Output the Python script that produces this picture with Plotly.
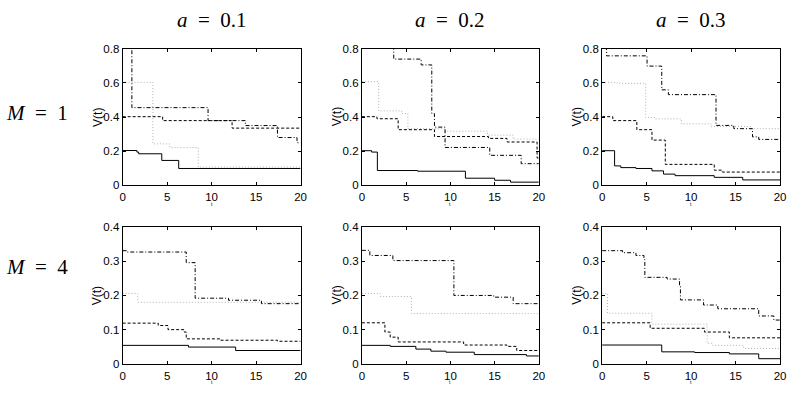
import plotly.graph_objects as go

# ---------------- data (step functions: jump times and levels) ----------------
T_MAX = 20
col_titles = ["a = 0.1", "a = 0.2", "a = 0.3"]
row_titles = ["M = 1", "M = 4"]
x_ticks = [0, 5, 10, 15, 20]
y_ticks_m1 = [0, 0.2, 0.4, 0.6, 0.8]
y_ticks_m4 = [0, 0.1, 0.2, 0.3, 0.4]

# M = 1, a = 0.1
m1a1_solid_t = [0, 1.6, 1.8, 4.4, 6.3]
m1a1_solid_v = [0.204, 0.195, 0.185, 0.146, 0.099]
m1a1_dot_t = [0, 3.4, 5.3, 8.5]
m1a1_dot_v = [0.603, 0.243, 0.222, 0.107]
m1a1_dash_t = [0, 4.5, 12.3]
m1a1_dash_v = [0.402, 0.379, 0.335]
m1a1_dashdot_t = [0, 1.04, 9.6, 13.8, 17.4, 19.6]
m1a1_dashdot_v = [1.0, 0.455, 0.379, 0.35, 0.28, 0.25]

# M = 1, a = 0.2
m1a2_solid_t = [0, 1.1, 1.75, 6.3, 11.7, 15.0, 16.8]
m1a2_solid_v = [0.203, 0.195, 0.087, 0.083, 0.042, 0.03, 0.019]
m1a2_dot_t = [0, 1.9, 4.5, 5.2, 9.3, 14.2, 17.1]
m1a2_dot_v = [0.607, 0.436, 0.42, 0.332, 0.317, 0.294, 0.271]
m1a2_dash_t = [0, 1.7, 4.1, 8.2, 14.3, 16.4, 19.8]
m1a2_dash_v = [0.402, 0.39, 0.326, 0.286, 0.275, 0.254, 0.16]
m1a2_dashdot_t = [0, 3.6, 6.7, 7.9, 8.2, 9.4, 14.45, 18.0]
m1a2_dashdot_v = [1.0, 0.739, 0.705, 0.42, 0.341, 0.222, 0.176, 0.127]

# M = 1, a = 0.3
m1a3_solid_t = [0, 1.4, 2.1, 3.8, 5.6, 6.9, 8.2, 12.6, 15.8]
m1a3_solid_v = [0.203, 0.114, 0.104, 0.099, 0.085, 0.066, 0.057, 0.047, 0.032]
m1a3_dot_t = [0, 1.7, 4.9, 6.0, 8.9, 12.25, 16.7]
m1a3_dot_v = [0.603, 0.597, 0.398, 0.389, 0.36, 0.345, 0.332]
m1a3_dash_t = [0, 1.2, 3.9, 5.6, 7.1, 12.6, 13.5]
m1a3_dash_v = [0.402, 0.379, 0.326, 0.265, 0.123, 0.089, 0.078]
m1a3_dashdot_t = [0, 0.5, 5.05, 6.7, 7.45, 12.8, 14.8, 16.9, 17.6]
m1a3_dashdot_v = [1.0, 0.758, 0.698, 0.559, 0.531, 0.351, 0.332, 0.284, 0.269]

# M = 4, a = 0.1
m4a1_solid_t = [0, 7.4, 12.7]
m4a1_solid_v = [0.054, 0.049, 0.039]
m4a1_dot_t = [0, 1.7]
m4a1_dot_v = [0.206, 0.18]
m4a1_dash_t = [0, 4.0, 5.1, 6.9, 7.15, 11.0, 17.4]
m4a1_dash_v = [0.119, 0.112, 0.1, 0.093, 0.073, 0.069, 0.066]
m4a1_dashdot_t = [0, 0.5, 7.15, 8.15, 11.9, 15.6]
m4a1_dashdot_v = [0.331, 0.327, 0.296, 0.192, 0.186, 0.176]

# M = 4, a = 0.2
m4a2_solid_t = [0, 3.2, 6.1, 7.8, 9.5, 12.7, 18.6]
m4a2_solid_v = [0.054, 0.051, 0.043, 0.037, 0.034, 0.027, 0.023]
m4a2_dot_t = [0, 2.05, 5.6]
m4a2_dot_v = [0.206, 0.197, 0.147]
m4a2_dash_t = [0, 2.6, 3.2, 4.1, 11.5, 16.4, 17.5]
m4a2_dash_v = [0.12, 0.093, 0.078, 0.064, 0.055, 0.051, 0.039]
m4a2_dashdot_t = [0, 0.9, 3.5, 10.4, 14.9, 17.1]
m4a2_dashdot_v = [0.332, 0.317, 0.302, 0.2, 0.195, 0.176]

# M = 4, a = 0.3
m4a3_solid_t = [0, 6.7, 10.4, 14.3, 17.6]
m4a3_solid_v = [0.055, 0.035, 0.033, 0.029, 0.015]
m4a3_dot_t = [0, 0.6, 5.6, 11.8, 12.4, 15.9]
m4a3_dot_v = [0.206, 0.148, 0.116, 0.06, 0.054, 0.045]
m4a3_dash_t = [0, 5.4, 11.5, 14.3]
m4a3_dash_v = [0.12, 0.104, 0.093, 0.076]
m4a3_dashdot_t = [0, 2.3, 3.8, 4.7, 4.8, 7.3, 8.7, 8.8, 11.4, 13.0, 17.6, 19.3]
m4a3_dashdot_v = [0.331, 0.325, 0.317, 0.305, 0.253, 0.248, 0.23, 0.187, 0.172, 0.161, 0.14, 0.128]

panels = [
    [  # M = 1
        [(m1a1_solid_t, m1a1_solid_v), (m1a1_dot_t, m1a1_dot_v), (m1a1_dash_t, m1a1_dash_v), (m1a1_dashdot_t, m1a1_dashdot_v)],
        [(m1a2_solid_t, m1a2_solid_v), (m1a2_dot_t, m1a2_dot_v), (m1a2_dash_t, m1a2_dash_v), (m1a2_dashdot_t, m1a2_dashdot_v)],
        [(m1a3_solid_t, m1a3_solid_v), (m1a3_dot_t, m1a3_dot_v), (m1a3_dash_t, m1a3_dash_v), (m1a3_dashdot_t, m1a3_dashdot_v)],
    ],
    [  # M = 4
        [(m4a1_solid_t, m4a1_solid_v), (m4a1_dot_t, m4a1_dot_v), (m4a1_dash_t, m4a1_dash_v), (m4a1_dashdot_t, m4a1_dashdot_v)],
        [(m4a2_solid_t, m4a2_solid_v), (m4a2_dot_t, m4a2_dot_v), (m4a2_dash_t, m4a2_dash_v), (m4a2_dashdot_t, m4a2_dashdot_v)],
        [(m4a3_solid_t, m4a3_solid_v), (m4a3_dot_t, m4a3_dot_v), (m4a3_dash_t, m4a3_dash_v), (m4a3_dashdot_t, m4a3_dashdot_v)],
    ],
]

# ---------------- styling / layout ----------------
W, H = 794, 396
col_px = [(121, 301), (363, 542), (606, 786)]
row_px = [(44, 185), (228, 369)]
row_label_y = [110, 269]
line_styles = [
    dict(color="#000000", dash="solid", width=1),
    dict(color="#b0b0b0", dash="1px,2px", width=1),
    dict(color="#000000", dash="3px,2px", width=1),
    dict(color="#000000", dash="4px,2px,1px,2px", width=1),
]
tick_font = dict(family="Liberation Sans, Arial, sans-serif", size=11.5, color="#000000")
math_font = dict(family="Liberation Serif, Times New Roman, serif", size=21, color="#000000")
SP = "&#8194;"  # en space around '=' (LaTeX-like spacing)

fig = go.Figure()
layout = dict(
    width=W, height=H, margin=dict(l=0, r=0, t=0, b=0),
    paper_bgcolor="white", plot_bgcolor="white", showlegend=False,
)
annotations = []

idx = 0
for r in range(2):
    y0p, y1p = row_px[r]
    ydom = [1 - y1p / H, 1 - y0p / H]
    yticks = y_ticks_m1 if r == 0 else y_ticks_m4
    for c in range(3):
        idx += 1
        x0p, x1p = col_px[c]
        xdom = [x0p / W, x1p / W]
        xa = "xaxis" if idx == 1 else f"xaxis{idx}"
        ya = "yaxis" if idx == 1 else f"yaxis{idx}"
        xref = "x" if idx == 1 else f"x{idx}"
        yref = "y" if idx == 1 else f"y{idx}"
        for (ts, vs), st in zip(panels[r][c], line_styles):
            xs = list(ts) + [T_MAX]
            ys = list(vs) + [vs[-1]]
            fig.add_trace(go.Scatter(x=xs, y=ys, mode="lines", line_shape="hv",
                                     line=st, xaxis=xref, yaxis=yref, hoverinfo="skip"))
        axis_common = dict(showgrid=False, zeroline=False, showline=True, linecolor="#000000",
                           linewidth=1, mirror="allticks", ticks="inside", ticklen=3,
                           tickcolor="#000000", tickfont=tick_font, fixedrange=True)
        layout[xa] = dict(domain=xdom, range=[0, T_MAX], tickvals=x_ticks,
                          ticktext=[str(v) for v in x_ticks], anchor=yref,
                          ticklabelstandoff=1, **axis_common)
        layout[ya] = dict(domain=ydom, range=[0, yticks[-1]], tickvals=yticks,
                          ticktext=[("0" if v == 0 else f"{v:g}") for v in yticks],
                          anchor=xref, **axis_common)
        # y label V(t)
        annotations.append(dict(text="V(t)", textangle=-90, xref="paper", yref="paper",
                                x=(x0p - 25) / W, y=1 - ((y0p + y1p) / 2) / H,
                                showarrow=False, font=dict(family="Liberation Sans, Arial", size=12, color="#000000"),
                                xanchor="center", yanchor="middle"))
        # tiny x label
        annotations.append(dict(text="t", xref="paper", yref="paper",
                                x=((x0p + x1p) / 2) / W, y=1 - (y1p + 19) / H,
                                showarrow=False, font=dict(family="Liberation Sans, Arial", size=5, color="#000000"),
                                xanchor="center", yanchor="middle"))

for c in range(3):
    x0p, x1p = col_px[c]
    name, val = col_titles[c].split(" = ")
    annotations.append(dict(text=f"<i>{name}</i>{SP}={SP}{val}", xref="paper", yref="paper",
                            x=((x0p + x1p) / 2) / W, y=1 - 14 / H, showarrow=False,
                            font=math_font, xanchor="center", yanchor="middle"))
for r in range(2):
    name, val = row_titles[r].split(" = ")
    annotations.append(dict(text=f"<i>{name}</i>{SP}={SP}{val}", xref="paper", yref="paper",
                            x=1 / W, y=1 - row_label_y[r] / H, showarrow=False,
                            font=math_font, xanchor="left", yanchor="middle"))

layout["annotations"] = annotations
fig.update_layout(**layout)
fig.write_html("out.html")
